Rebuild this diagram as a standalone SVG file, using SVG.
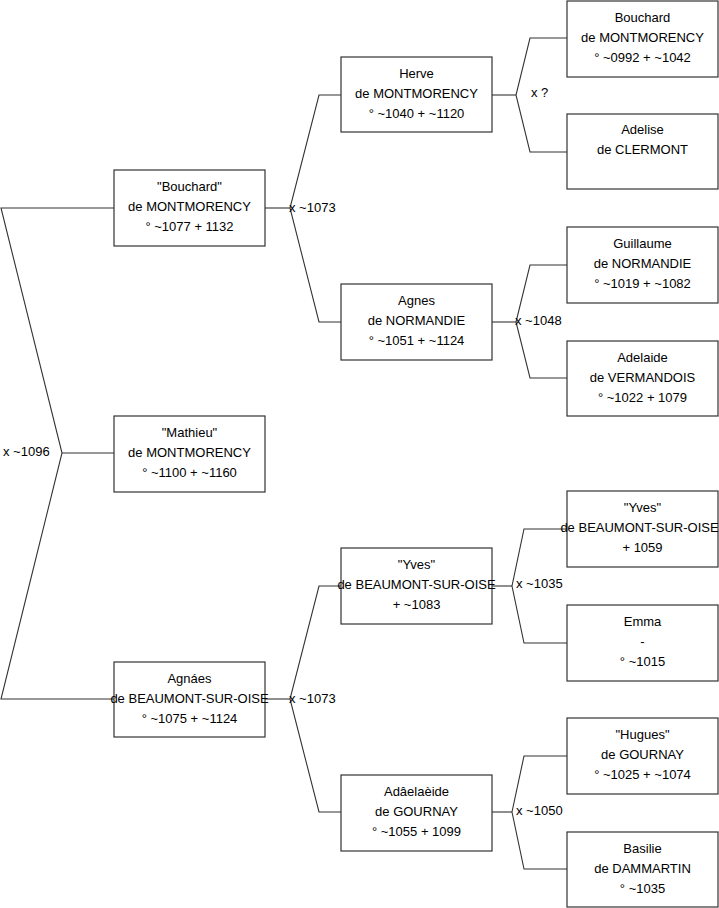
<svg xmlns="http://www.w3.org/2000/svg" width="719" height="908" viewBox="0 0 719 908">
<style>
.box{fill:#fff;stroke:#333;stroke-width:1.2}
.ln{fill:none;stroke:#333;stroke-width:1.1}
text{font-family:"Liberation Sans",Arial,sans-serif;font-size:13px;fill:#000}
.c{text-anchor:middle}
</style>
<rect width="719" height="908" fill="#fff"/>
<g id="connectors">
<polyline class="ln" points="114,208 1,208 62,453 1,699 114,699"/>
<line class="ln" x1="62" y1="453" x2="114" y2="453"/>
<polyline class="ln" points="265,208 290,208"/>
<polyline class="ln" points="341,95 319,95 290,208 319,322 341,322"/>
<polyline class="ln" points="265,699 290,699"/>
<polyline class="ln" points="341,586 319,586 290,699 319,812 341,812"/>
<polyline class="ln" points="492,95 516,95"/>
<polyline class="ln" points="567,38 530,38 516,95 530,152 567,152"/>
<polyline class="ln" points="492,322 516,322"/>
<polyline class="ln" points="567,265 530,265 516,322 530,378 567,378"/>
<polyline class="ln" points="492,586 512,586"/>
<polyline class="ln" points="567,529 524,529 512,586 524,643 567,643"/>
<polyline class="ln" points="492,812 512,812"/>
<polyline class="ln" points="567,756 524,756 512,812 524,869 567,869"/>
<text x="3" y="456">x ~1096</text>
<text x="289" y="212">x ~1073</text>
<text x="289" y="703">x ~1073</text>
<text x="531" y="97">x ?</text>
<text x="515" y="325">x ~1048</text>
<text x="516" y="588">x ~1035</text>
<text x="516" y="815">x ~1050</text>
</g>
<g id="n_bouchard1"><rect class="box" x="114" y="170" width="151" height="76"/>
<text class="c" x="189.5" y="191">"Bouchard"</text><text class="c" x="189.5" y="211">de MONTMORENCY</text><text class="c" x="189.5" y="231">° ~1077 + 1132</text></g>
<g id="n_mathieu"><rect class="box" x="114" y="416" width="151" height="76"/>
<text class="c" x="189.5" y="437">"Mathieu"</text><text class="c" x="189.5" y="457">de MONTMORENCY</text><text class="c" x="189.5" y="477">° ~1100 + ~1160</text></g>
<g id="n_agnaes"><rect class="box" x="114" y="662" width="151" height="75"/>
<text class="c" x="189.5" y="683">Agnáes</text><text class="c" x="189.5" y="703">de BEAUMONT-SUR-OISE</text><text class="c" x="189.5" y="723">° ~1075 + ~1124</text></g>
<g id="n_herve"><rect class="box" x="341" y="57" width="151" height="75"/>
<text class="c" x="416.5" y="78">Herve</text><text class="c" x="416.5" y="98">de MONTMORENCY</text><text class="c" x="416.5" y="118">° ~1040 + ~1120</text></g>
<g id="n_agnes"><rect class="box" x="341" y="284" width="151" height="76"/>
<text class="c" x="416.5" y="305">Agnes</text><text class="c" x="416.5" y="325">de NORMANDIE</text><text class="c" x="416.5" y="345">° ~1051 + ~1124</text></g>
<g id="n_yves2"><rect class="box" x="341" y="548" width="151" height="76"/>
<text class="c" x="416.5" y="569">"Yves"</text><text class="c" x="416.5" y="589">de BEAUMONT-SUR-OISE</text><text class="c" x="416.5" y="609">+ ~1083</text></g>
<g id="n_adelaide2"><rect class="box" x="341" y="775" width="151" height="76"/>
<text class="c" x="416.5" y="796">Adâelaèide</text><text class="c" x="416.5" y="816">de GOURNAY</text><text class="c" x="416.5" y="836">° ~1055 + 1099</text></g>
<g id="n_bouchard3"><rect class="box" x="567" y="1" width="151" height="76"/>
<text class="c" x="642.5" y="22">Bouchard</text><text class="c" x="642.5" y="42">de MONTMORENCY</text><text class="c" x="642.5" y="62">° ~0992 + ~1042</text></g>
<g id="n_adelise"><rect class="box" x="567" y="114" width="151" height="75"/>
<text class="c" x="642.5" y="134">Adelise</text><text class="c" x="642.5" y="154">de CLERMONT</text></g>
<g id="n_guillaume"><rect class="box" x="567" y="227" width="151" height="76"/>
<text class="c" x="642.5" y="248">Guillaume</text><text class="c" x="642.5" y="268">de NORMANDIE</text><text class="c" x="642.5" y="288">° ~1019 + ~1082</text></g>
<g id="n_adelaide3"><rect class="box" x="567" y="341" width="151" height="75"/>
<text class="c" x="642.5" y="362">Adelaide</text><text class="c" x="642.5" y="382">de VERMANDOIS</text><text class="c" x="642.5" y="402">° ~1022 + 1079</text></g>
<g id="n_yves3"><rect class="box" x="567" y="491" width="151" height="76"/>
<text class="c" x="642.5" y="512">"Yves"</text><text class="c" x="639.5" y="532">de BEAUMONT-SUR-OISE</text><text class="c" x="642.5" y="552">+ 1059</text></g>
<g id="n_emma"><rect class="box" x="567" y="605" width="151" height="76"/>
<text class="c" x="642.5" y="626">Emma</text><text class="c" x="642.5" y="646">-</text><text class="c" x="642.5" y="666">° ~1015</text></g>
<g id="n_hugues"><rect class="box" x="567" y="718" width="151" height="76"/>
<text class="c" x="642.5" y="739">"Hugues"</text><text class="c" x="642.5" y="759">de GOURNAY</text><text class="c" x="642.5" y="779">° ~1025 + ~1074</text></g>
<g id="n_basilie"><rect class="box" x="567" y="832" width="151" height="75"/>
<text class="c" x="642.5" y="853">Basilie</text><text class="c" x="642.5" y="873">de DAMMARTIN</text><text class="c" x="642.5" y="893">° ~1035</text></g>
</svg>
